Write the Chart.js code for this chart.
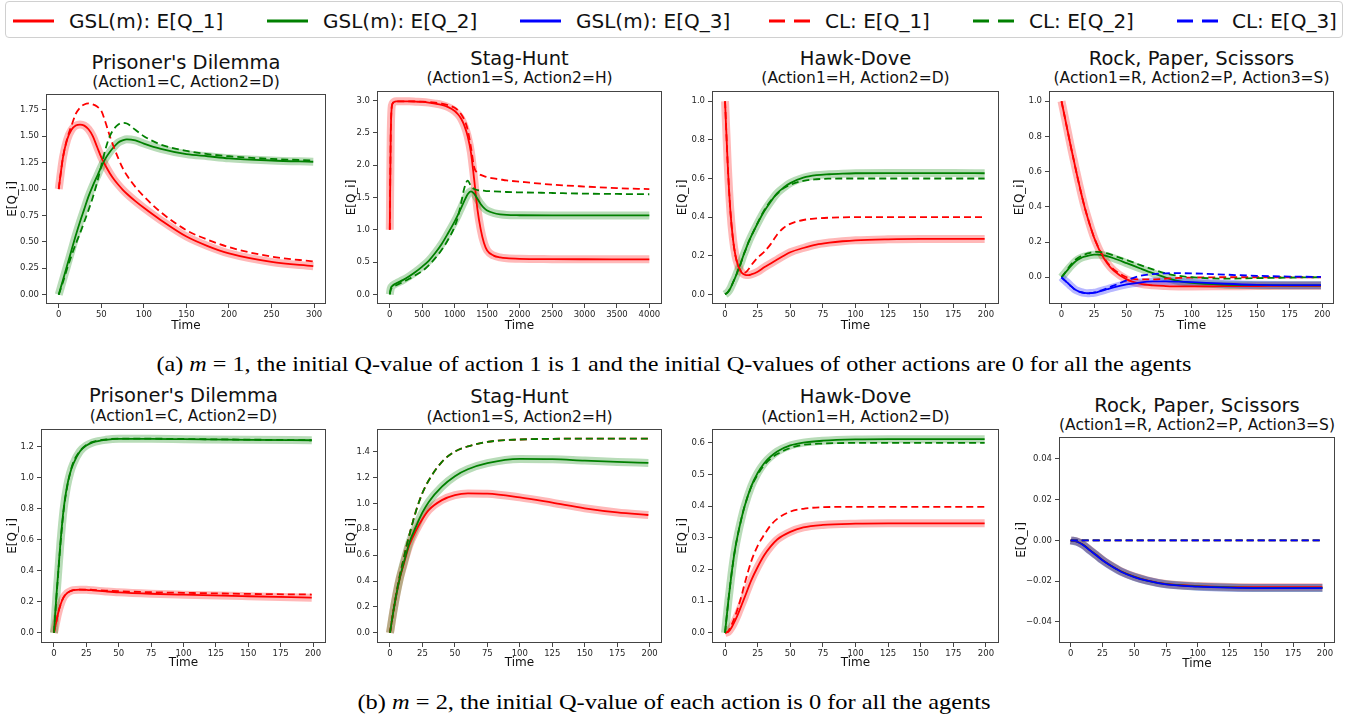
<!DOCTYPE html>
<html><head><meta charset="utf-8">
<script src="https://cdn.jsdelivr.net/npm/chart.js"></script>
<style>
html,body{margin:0;padding:0;background:#fff;}
body{width:1348px;height:719px;overflow:hidden;position:relative;font-family:'DejaVu Sans',sans-serif;}
canvas{position:absolute;}
.ttl{position:absolute;transform:translate(-50%,-50%);white-space:nowrap;color:#111;line-height:1;}
.t1{font-size:19.5px;}
.t2{font-size:15.5px;}
#legend{position:absolute;left:5px;top:1px;width:1336px;height:35px;border:1px solid #d0d0d0;border-radius:4px;}
.lg{position:absolute;top:19px;transform:translateY(-50%);font-size:20px;color:#111;white-space:nowrap;line-height:1;}
.ls{position:absolute;top:17px;}
.cap{position:absolute;left:674px;white-space:nowrap;font-family:'Liberation Serif','Times New Roman',serif;font-size:22px;color:#000;line-height:1;transform-origin:center center;}
</style></head><body>
<div id="legend"></div>
<div id="capA" class="cap" style="top:364px">(a) <i>m</i> = 1, the initial Q-value of action 1 is 1 and the initial Q-values of other actions are 0 for all the agents</div>
<div id="capB" class="cap" style="top:702px">(b) <i>m</i> = 2, the initial Q-value of each action is 0 for all the agents</div>
<script>
// ---------- tick values / labels ----------
const xTicks300 = [0,50,100,150,200,250,300];
const xLabels300 = ['0','50','100','150','200','250','300'];
const xTicks4000 = [0,500,1000,1500,2000,2500,3000,3500,4000];
const xLabels4000 = ['0','500','1000','1500','2000','2500','3000','3500','4000'];
const xTicks200 = [0,25,50,75,100,125,150,175,200];
const xLabels200 = ['0','25','50','75','100','125','150','175','200'];

const yTicksPD1 = [0,0.25,0.5,0.75,1,1.25,1.5,1.75];
const yLabelsPD1 = ['0.00','0.25','0.50','0.75','1.00','1.25','1.50','1.75'];
const yTicksSH1 = [0,0.5,1,1.5,2,2.5,3];
const yLabelsSH1 = ['0.0','0.5','1.0','1.5','2.0','2.5','3.0'];
const yTicksUnit = [0,0.2,0.4,0.6,0.8,1.0];
const yLabelsUnit = ['0.0','0.2','0.4','0.6','0.8','1.0'];
const yTicksPD2 = [0,0.2,0.4,0.6,0.8,1.0,1.2];
const yLabelsPD2 = ['0.0','0.2','0.4','0.6','0.8','1.0','1.2'];
const yTicksSH2 = [0,0.2,0.4,0.6,0.8,1.0,1.2,1.4];
const yLabelsSH2 = ['0.0','0.2','0.4','0.6','0.8','1.0','1.2','1.4'];
const yTicksHD2 = [0,0.1,0.2,0.3,0.4,0.5,0.6];
const yLabelsHD2 = ['0.0','0.1','0.2','0.3','0.4','0.5','0.6'];
const yTicksRPS2 = [-0.04,-0.02,0,0.02,0.04];
const yLabelsRPS2 = ['\u22120.04','\u22120.02','0.00','0.02','0.04'];

// ---------- (a) m=1 : Prisoner's Dilemma ----------
const pd1Time  = [0,5,10,15,20,25,30,35,40,45,50,55,60,65,70,75,80,90,100,120,150,175,200,250,299];
const pd1GslQ1 = [1.00,1.30,1.47,1.56,1.60,1.61,1.60,1.565,1.50,1.40,1.30,1.22,1.15,1.09,1.04,0.995,0.955,0.885,0.822,0.705,0.55,0.46,0.39,0.31,0.27];
const pd1ClQ1  = [1.00,1.30,1.48,1.60,1.71,1.77,1.80,1.81,1.80,1.78,1.74,1.63,1.50,1.39,1.29,1.20,1.13,1.02,0.93,0.78,0.61,0.52,0.45,0.36,0.315];
const pd1GslQ2 = [0.00,0.14,0.28,0.42,0.56,0.69,0.81,0.93,1.03,1.12,1.21,1.29,1.35,1.40,1.44,1.46,1.47,1.46,1.43,1.38,1.33,1.31,1.29,1.27,1.258];
const pd1ClQ2  = [0.00,0.12,0.25,0.37,0.48,0.58,0.69,0.80,0.92,1.06,1.22,1.38,1.50,1.57,1.61,1.625,1.62,1.56,1.50,1.42,1.36,1.33,1.31,1.285,1.27];

// ---------- (a) m=1 : Stag-Hunt ----------
const sh1Time  = [0,15,40,100,200,300,400,500,600,700,800,900,1000,1050,1100,1150,1200,1250,1300,1350,1400,1450,1500,1600,1700,1800,2000,2500,3000,3500,3999];
const sh1GslQ1 = [1.00,2.50,2.95,2.99,2.99,2.99,2.985,2.98,2.97,2.955,2.935,2.90,2.84,2.79,2.72,2.61,2.45,2.20,1.78,1.32,1.01,0.80,0.68,0.60,0.573,0.56,0.55,0.545,0.543,0.542,0.542];
const sh1ClQ1  = [1.00,2.50,2.95,2.99,2.99,2.99,2.988,2.985,2.98,2.97,2.955,2.93,2.89,2.85,2.79,2.70,2.55,2.28,1.97,1.88,1.85,1.83,1.815,1.795,1.78,1.765,1.745,1.70,1.67,1.645,1.63];
const sh1GslQ2 = [0.00,0.09,0.13,0.17,0.22,0.28,0.35,0.43,0.52,0.64,0.78,0.95,1.13,1.23,1.34,1.45,1.55,1.595,1.56,1.48,1.40,1.34,1.30,1.26,1.24,1.23,1.225,1.222,1.222,1.222,1.222];
const sh1ClQ2  = [0.00,0.07,0.11,0.14,0.19,0.24,0.30,0.36,0.45,0.56,0.69,0.85,1.05,1.20,1.42,1.65,1.76,1.68,1.63,1.615,1.61,1.605,1.60,1.595,1.59,1.585,1.58,1.57,1.56,1.555,1.55];

// ---------- (a) m=1 : Hawk-Dove ----------
const hd1Time  = [0,2,4,6,8,10,12,14,16,18,20,25,30,35,40,45,50,60,70,80,90,100,125,150,175,199];
const hd1GslQ1 = [1.00,0.68,0.44,0.29,0.20,0.15,0.12,0.105,0.10,0.10,0.103,0.117,0.14,0.16,0.18,0.20,0.218,0.24,0.258,0.268,0.275,0.28,0.285,0.287,0.287,0.287];
const hd1ClQ1  = [1.00,0.68,0.44,0.29,0.20,0.15,0.12,0.11,0.115,0.13,0.15,0.19,0.22,0.26,0.31,0.345,0.365,0.385,0.393,0.397,0.399,0.40,0.40,0.40,0.40,0.40];
const hd1GslQ2 = [0.00,0.01,0.03,0.06,0.09,0.126,0.16,0.20,0.235,0.27,0.30,0.368,0.43,0.48,0.524,0.553,0.576,0.604,0.617,0.622,0.625,0.627,0.628,0.628,0.628,0.627];
const hd1ClQ2  = [0.00,0.01,0.03,0.06,0.09,0.126,0.16,0.20,0.235,0.27,0.30,0.37,0.435,0.485,0.52,0.55,0.567,0.588,0.596,0.599,0.60,0.60,0.60,0.60,0.60,0.60];

// ---------- (a) m=1 : Rock, Paper, Scissors ----------
const rps1Time  = [0,2.5,5,7.5,10,12.5,15,17.5,20,22.5,25,27.5,30,35,40,50,60,70,80,90,100,125,150,175,199];
const rps1GslQ1 = [1.00,0.91,0.82,0.73,0.645,0.56,0.48,0.405,0.34,0.28,0.225,0.18,0.14,0.08,0.038,-0.012,-0.036,-0.046,-0.05,-0.052,-0.052,-0.051,-0.05,-0.049,-0.049];
const rps1ClQ1  = [1.00,0.91,0.82,0.73,0.645,0.56,0.48,0.405,0.34,0.28,0.226,0.182,0.145,0.085,0.045,0.0,-0.012,-0.012,-0.008,-0.004,-0.002,0.0,0.0,0.0,0.0];
const rps1GslQ2 = [0.00,0.022,0.045,0.066,0.085,0.10,0.11,0.117,0.122,0.126,0.128,0.128,0.127,0.12,0.108,0.08,0.051,0.023,-0.002,-0.022,-0.032,-0.042,-0.045,-0.046,-0.046];
const rps1ClQ2  = [0.00,0.024,0.05,0.075,0.095,0.11,0.12,0.128,0.135,0.14,0.143,0.144,0.143,0.135,0.123,0.098,0.07,0.045,0.022,0.008,0.0,-0.008,-0.005,-0.002,0.0];
const rps1GslQ3 = [0.00,-0.018,-0.034,-0.052,-0.068,-0.078,-0.085,-0.089,-0.091,-0.09,-0.088,-0.084,-0.079,-0.068,-0.057,-0.04,-0.03,-0.024,-0.023,-0.025,-0.028,-0.037,-0.043,-0.045,-0.045];
const rps1ClQ3  = [0.00,-0.018,-0.035,-0.052,-0.068,-0.078,-0.086,-0.09,-0.092,-0.09,-0.087,-0.082,-0.076,-0.062,-0.048,-0.018,0.008,0.018,0.022,0.023,0.022,0.015,0.008,0.004,0.002];

// ---------- (b) m=2 : Prisoner's Dilemma ----------
const pd2Time  = [0,1,2,3,5,7.5,10,12.5,15,20,25,30,40,50,75,100,150,199];
const pd2GslQ1 = [0.00,0.04,0.08,0.12,0.18,0.23,0.255,0.268,0.275,0.278,0.277,0.274,0.267,0.261,0.252,0.246,0.236,0.227];
const pd2ClQ1  = [0.00,0.04,0.08,0.12,0.18,0.23,0.255,0.268,0.275,0.279,0.279,0.277,0.272,0.268,0.262,0.258,0.251,0.247];
const pd2GslQ2 = [0.00,0.13,0.25,0.36,0.58,0.80,0.94,1.03,1.09,1.168,1.206,1.226,1.243,1.249,1.249,1.247,1.243,1.24];
const pd2ClQ2  = [0.00,0.12,0.24,0.35,0.57,0.79,0.93,1.03,1.10,1.17,1.21,1.23,1.245,1.25,1.25,1.248,1.244,1.24];

// ---------- (b) m=2 : Stag-Hunt ----------
const sh2Time  = [0,2.5,5,7.5,10,12.5,15,20,25,30,40,50,60,75,100,125,150,175,199];
const sh2GslQ1 = [0.00,0.16,0.30,0.42,0.51,0.60,0.68,0.79,0.88,0.95,1.025,1.064,1.077,1.075,1.046,1.005,0.962,0.93,0.91];
const sh2ClQ1  = [0.00,0.16,0.31,0.44,0.55,0.66,0.76,0.94,1.08,1.18,1.32,1.40,1.44,1.475,1.493,1.498,1.50,1.50,1.50];
const sh2GslQ2 = [0.00,0.16,0.30,0.42,0.52,0.61,0.70,0.82,0.93,1.013,1.129,1.21,1.263,1.31,1.343,1.341,1.33,1.32,1.312];
const sh2ClQ2  = [0.00,0.16,0.31,0.44,0.55,0.66,0.76,0.94,1.08,1.18,1.32,1.40,1.44,1.475,1.493,1.498,1.50,1.50,1.50];

// ---------- (b) m=2 : Hawk-Dove ----------
const hd2Time  = [0,2.5,5,7.5,10,12.5,15,20,25,30,35,40,50,60,75,100,125,150,175,199];
const hd2GslQ1 = [0.00,0.003,0.017,0.037,0.06,0.086,0.112,0.165,0.208,0.245,0.273,0.295,0.319,0.333,0.341,0.345,0.346,0.346,0.346,0.346];
const hd2ClQ1  = [0.00,0.006,0.025,0.05,0.08,0.115,0.155,0.225,0.275,0.31,0.34,0.36,0.383,0.392,0.397,0.398,0.398,0.398,0.398,0.398];
const hd2GslQ2 = [0.00,0.10,0.187,0.26,0.314,0.36,0.40,0.462,0.505,0.536,0.557,0.573,0.592,0.601,0.607,0.611,0.612,0.612,0.612,0.612];
const hd2ClQ2  = [0.00,0.10,0.187,0.26,0.314,0.36,0.40,0.46,0.50,0.53,0.55,0.565,0.584,0.594,0.598,0.60,0.60,0.60,0.60,0.60];

// ---------- (b) m=2 : Rock, Paper, Scissors ----------
const rps2Time  = [0,5,10,15,20,25,30,40,50,60,75,100,125,150,175,198];
const rps2GslQ1 = [0.0000,-0.0006,-0.0022,-0.0047,-0.0071,-0.0096,-0.0117,-0.0153,-0.0178,-0.0196,-0.0214,-0.0224,-0.0229,-0.0230,-0.0230,-0.0230];
const rps2GslQ2 = [0.0000,-0.0007,-0.0023,-0.0048,-0.0072,-0.0097,-0.0118,-0.0154,-0.0179,-0.0197,-0.0215,-0.0226,-0.0231,-0.0233,-0.0233,-0.0233];
const rps2GslQ3 = [0.0000,-0.0007,-0.0024,-0.0049,-0.0073,-0.0098,-0.0119,-0.0155,-0.0180,-0.0198,-0.0216,-0.0227,-0.0232,-0.0234,-0.0234,-0.0234];
const rps2ClQ1  = [0,0,0,0,0,0,0,0,0,0,0,0,0,0,0,0];
const rps2ClQ2  = [0,0,0,0,0,0,0,0,0,0,0,0,0,0,0,0];
const rps2ClQ3  = [0,0,0,0,0,0,0,0,0,0,0,0,0,0,0,0];

// ---------- legend names ----------
const legendNames = ['GSL(m): E[Q_1]','GSL(m): E[Q_2]','GSL(m): E[Q_3]','CL: E[Q_1]','CL: E[Q_2]','CL: E[Q_3]'];

// ---------- styling ----------
const LINE = {q1:'#ff0000', q2:'#008000', q3:'#0000ff'};
const BAND = {q1:'rgba(255,0,0,0.28)', q2:'rgba(0,128,0,0.28)', q3:'rgba(0,0,255,0.28)'};
const AXC = '#444';
const TICKC = '#262626';

const panels = [
 {title:"Prisoner's Dilemma", sub:'(Action1=C, Action2=D)', L:46,T:94,R:326,B:304, yTX:13, xTY:326, tY:63, sY:83,
  xMin:-14.95, xMax:313.95, yMin:-0.088, yMax:1.899, xT:xTicks300, xL:xLabels300, yT:yTicksPD1, yL:yLabelsPD1,
  time:pd1Time, series:[['q1',pd1GslQ1,pd1ClQ1],['q2',pd1GslQ2,pd1ClQ2]]},
 {title:'Stag-Hunt', sub:'(Action1=S, Action2=H)', L:377,T:91,R:662,B:304, yTX:352, xTY:326, tY:59, sY:79,
  xMin:-197, xMax:4194, yMin:-0.15, yMax:3.15, xT:xTicks4000, xL:xLabels4000, yT:yTicksSH1, yL:yLabelsSH1,
  time:sh1Time, series:[['q1',sh1GslQ1,sh1ClQ1],['q2',sh1GslQ2,sh1ClQ2]]},
 {title:'Hawk-Dove', sub:'(Action1=H, Action2=D)', L:712,T:91,R:999,B:304, yTX:683, xTY:326, tY:59, sY:79,
  xMin:-10, xMax:210, yMin:-0.05, yMax:1.053, xT:xTicks200, xL:xLabels200, yT:yTicksUnit, yL:yLabelsUnit,
  time:hd1Time, series:[['q1',hd1GslQ1,hd1ClQ1],['q2',hd1GslQ2,hd1ClQ2]]},
 {title:'Rock, Paper, Scissors', sub:'(Action1=R, Action2=P, Action3=S)', L:1049,T:91,R:1334,B:304, yTX:1020, xTY:326, tY:59, sY:79,
  xMin:-9.6, xMax:209, yMin:-0.152, yMax:1.058, xT:xTicks200, xL:xLabels200, yT:yTicksUnit, yL:yLabelsUnit,
  time:rps1Time, series:[['q1',rps1GslQ1,rps1ClQ1],['q2',rps1GslQ2,rps1ClQ2],['q3',rps1GslQ3,rps1ClQ3]]},
 {title:"Prisoner's Dilemma", sub:'(Action1=C, Action2=D)', L:41,T:429,R:326,B:643, yTX:13, xTY:663, tY:396, sY:417,
  xMin:-10, xMax:210, yMin:-0.065, yMax:1.3125, xT:xTicks200, xL:xLabels200, yT:yTicksPD2, yL:yLabelsPD2,
  time:pd2Time, series:[['q1',pd2GslQ1,pd2ClQ1],['q2',pd2GslQ2,pd2ClQ2]]},
 {title:'Stag-Hunt', sub:'(Action1=S, Action2=H)', L:377,T:429,R:662,B:643, yTX:352, xTY:663, tY:397, sY:418,
  xMin:-10, xMax:209.5, yMin:-0.078, yMax:1.574, xT:xTicks200, xL:xLabels200, yT:yTicksSH2, yL:yLabelsSH2,
  time:sh2Time, series:[['q1',sh2GslQ1,sh2ClQ1],['q2',sh2GslQ2,sh2ClQ2]]},
 {title:'Hawk-Dove', sub:'(Action1=H, Action2=D)', L:712,T:429,R:999,B:643, yTX:683, xTY:663, tY:397, sY:418,
  xMin:-10, xMax:210, yMin:-0.032, yMax:0.644, xT:xTicks200, xL:xLabels200, yT:yTicksHD2, yL:yLabelsHD2,
  time:hd2Time, series:[['q1',hd2GslQ1,hd2ClQ1],['q2',hd2GslQ2,hd2ClQ2]]},
 {title:'Rock, Paper, Scissors', sub:'(Action1=R, Action2=P, Action3=S)', L:1059,T:437,R:1335,B:643, yTX:1022, xTY:664, tY:406, sY:426,
  xMin:-9.2, xMax:207.9, yMin:-0.0503, yMax:0.0506, xT:xTicks200, xL:xLabels200, yT:yTicksRPS2, yL:yLabelsRPS2,
  time:rps2Time, series:[['q1',rps2GslQ1,rps2ClQ1],['q2',rps2GslQ2,rps2ClQ2],['q3',rps2GslQ3,rps2ClQ3]]}
];

Chart.defaults.font.family = "'DejaVu Sans', sans-serif";

const boxPlugin = {
  id:'box',
  afterDatasetsDraw(chart){
    const a = chart.chartArea, ctx = chart.ctx;
    ctx.save();
    ctx.strokeStyle = AXC; ctx.lineWidth = 1;
    const l = Math.round(a.left)+0.5, t = Math.round(a.top)+0.5;
    const r = Math.round(a.right)-0.5, b = Math.round(a.bottom)-0.5;
    ctx.strokeRect(l, t, r-l, b-t);
    ctx.restore();
  }
};

function addText(cls, text, x, y){
  const d = document.createElement('div');
  d.className = 'ttl ' + cls; d.textContent = text;
  d.style.left = x + 'px'; d.style.top = y + 'px';
  document.body.appendChild(d);
}

const TITLE_FS = 12, TITLE_LH = TITLE_FS*1.2;
const PAD_T = 10, PAD_R = 16;

panels.forEach(p => {
  const cx = (p.L + p.R)/2;
  addText('t1', p.title, cx, p.tY);
  addText('t2', p.sub, cx, p.sY);

  const cLeft = Math.round(p.yTX - TITLE_LH/2);
  const cTop = p.T - PAD_T;
  const cBottom = Math.round(p.xTY + TITLE_LH/2);
  const cRight = p.R + PAD_R;
  const yW = p.L - cLeft, xH = cBottom - p.B;

  const cv = document.createElement('canvas');
  cv.width = cRight - cLeft; cv.height = cBottom - cTop;
  cv.style.left = cLeft + 'px'; cv.style.top = cTop + 'px';
  cv.style.width = cv.width + 'px'; cv.style.height = cv.height + 'px';
  document.body.appendChild(cv);

  const datasets = [];
  p.series.forEach((s, k) => {
    const [key, gsl, cl] = s;
    const gslPts = p.time.map((t,i)=>({x:t, y:gsl[i]}));
    const clPts = p.time.map((t,i)=>({x:t, y:cl[i]}));
    datasets.push({data:gslPts, borderColor:BAND[key], borderWidth:8, order:300-k, fill:false, pointRadius:0, cubicInterpolationMode:'monotone', borderCapStyle:'butt'});
    datasets.push({data:gslPts, borderColor:LINE[key], borderWidth:1.8, order:200-k, fill:false, pointRadius:0, cubicInterpolationMode:'monotone'});
    datasets.push({data:clPts, borderColor:LINE[key], borderWidth:1.8, borderDash:[7,4], order:100-k, fill:false, pointRadius:0, cubicInterpolationMode:'monotone'});
  });

  new Chart(cv, {
    type:'line',
    data:{datasets},
    options:{
      responsive:false, animation:false, devicePixelRatio:1,
      layout:{padding:{top:PAD_T, right:PAD_R, left:0, bottom:0}},
      plugins:{legend:{display:false}, tooltip:{enabled:false}, title:{display:false}},
      elements:{point:{radius:0}},
      scales:{
        x:{type:'linear', min:p.xMin, max:p.xMax,
           afterBuildTicks:(sc)=>{ sc.ticks = p.xT.map(v=>({value:v})); },
           afterFit:(sc)=>{ sc.height = xH; },
           ticks:{autoSkip:false, maxRotation:0, minRotation:0, padding:2, color:TICKC, font:{size:8.5},
                  callback:(v,i)=>p.xL[i]},
           grid:{display:true, drawOnChartArea:false, drawTicks:true, tickLength:4, color:AXC},
           border:{display:false},
           title:{display:true, text:'Time', color:'#111', font:{size:TITLE_FS}, padding:{top:0,bottom:0}}},
        y:{type:'linear', min:p.yMin, max:p.yMax,
           afterBuildTicks:(sc)=>{ sc.ticks = p.yT.map(v=>({value:v})); },
           afterFit:(sc)=>{ sc.width = yW; },
           ticks:{autoSkip:false, padding:3, color:TICKC, font:{size:8.5},
                  callback:(v,i)=>p.yL[i]},
           grid:{display:true, drawOnChartArea:false, drawTicks:true, tickLength:4, color:AXC},
           border:{display:false},
           title:{display:true, text:'E[Q_i]', color:'#111', font:{size:TITLE_FS}, padding:{top:0,bottom:0}}}
      }
    },
    plugins:[boxPlugin]
  });
});

// ---------- legend ----------
const lg = document.getElementById('legend');
const legendLineX = [13,267,520,769,973,1177];
const legendTextX = [69,323,576,825,1029,1232];
const legendKeys = ['q1','q2','q3','q1','q2','q3'];
legendNames.forEach((name,i)=>{
  const dashed = i >= 3;
  const svgNS = 'http://www.w3.org/2000/svg';
  const svg = document.createElementNS(svgNS,'svg');
  svg.setAttribute('width','41'); svg.setAttribute('height','4');
  svg.setAttribute('class','ls');
  svg.style.left = (legendLineX[i]-6) + 'px';
  const ln = document.createElementNS(svgNS,'line');
  ln.setAttribute('x1','0'); ln.setAttribute('y1','2'); ln.setAttribute('x2','41'); ln.setAttribute('y2','2');
  ln.setAttribute('stroke', LINE[legendKeys[i]]); ln.setAttribute('stroke-width','3');
  if (dashed) ln.setAttribute('stroke-dasharray','16 9');
  svg.appendChild(ln);
  lg.appendChild(svg);
  const t = document.createElement('div');
  t.className = 'lg'; t.textContent = name;
  t.style.left = (legendTextX[i]-6) + 'px';
  lg.appendChild(t);
});

// ---------- captions: fit to measured widths ----------
function fitCap(id, target){
  const el = document.getElementById(id);
  const w = el.getBoundingClientRect().width;
  const s = target / w;
  el.style.transform = 'translate(-50%,-50%) scaleX(' + s.toFixed(4) + ')';
}
fitCap('capA', 1035);
fitCap('capB', 633);
</script>
</body></html>
